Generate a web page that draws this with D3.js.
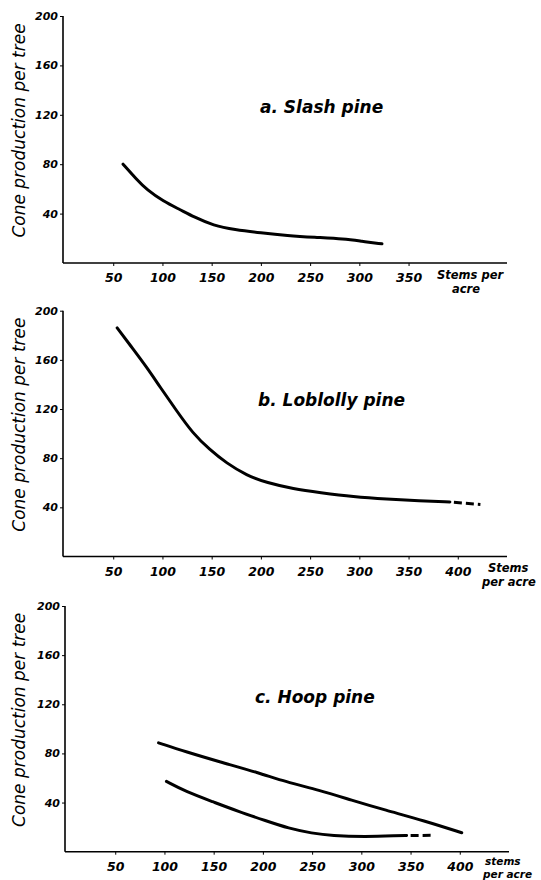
<!DOCTYPE html>
<html>
<head>
<meta charset="utf-8">
<script src="https://cdn.jsdelivr.net/npm/d3@7"></script>
<style>
  body { margin: 0; background: #fff; }
  svg { display: block; }
  .tick text { font-family: "DejaVu Sans", sans-serif; font-weight: bold; font-style: italic; }
</style>
</head>
<body>
<svg width="541" height="880"></svg>
<script>
const svg = d3.select('svg');

// values
const stemTicks = [50, 100, 150, 200, 250, 300, 350, 400];
const coneTicks = [40, 80, 120, 160, 200];

const slashStems = [60, 74, 84, 101, 118, 132, 152, 173, 200, 227, 254, 285, 302, 323];
const slashCones = [80, 67.5, 59.4, 49.9, 43.2, 37.3, 30.3, 27, 24.4, 22.2, 20.8, 19.5, 17.6, 15.5];

const loblollyStems = [54, 70, 84, 97.5, 114, 131, 148, 165, 185.5, 206, 233, 260, 294, 328, 361, 392];
const loblollyCones = [186, 169, 154, 138, 119, 100, 87, 76, 66, 60, 55, 52, 48.6, 46.7, 45.4, 44.3];
const loblollyDashStems = [392, 423];
const loblollyDashCones = [44.3, 42.4];

const hoopUpperStems = [94, 122, 156, 196, 223, 257, 290, 324, 364, 402];
const hoopUpperCones = [88.6, 81.3, 73.2, 64.2, 56.9, 50.2, 42, 33.9, 25.2, 15.4];
const hoopLowerStems = [102, 122, 149, 176, 203, 226, 250, 270, 304, 337, 346];
const hoopLowerCones = [57.2, 48.8, 40.7, 32.5, 25.2, 19, 15, 13, 12.2, 13, 13.2];
const hoopLowerDashStems = [346, 372];
const hoopLowerDashCones = [13.2, 13.3];

const zip = (xs, ys) => xs.map((x, i) => [x, ys[i]]);

// one entry per panel; top = pixel of 200, base = pixel of 0
const panels = [
  { title: 'a. Slash pine', top: 16, base: 263, x0: 64, tx: 260, ty: 113,
    ticks: stemTicks.slice(0, 7), unit: ['Stems per', 'acre'], ux: [437, 452], uy: [279, 293], us: 11.5,
    solid: [zip(slashStems, slashCones)], dashed: [] },
  { title: 'b. Loblolly pine', top: 310.7, base: 556.5, x0: 64, tx: 258, ty: 406,
    ticks: stemTicks, unit: ['Stems', 'per acre'], ux: [488, 482], uy: [572, 586], us: 11.5,
    solid: [zip(loblollyStems, loblollyCones)], dashed: [zip(loblollyDashStems, loblollyDashCones)] },
  { title: 'c. Hoop pine', top: 606, base: 851.7, x0: 66, tx: 255, ty: 703,
    ticks: stemTicks, unit: ['stems', 'per acre'], ux: [485, 483], uy: [865, 877.5], us: 10.5,
    solid: [zip(hoopUpperStems, hoopUpperCones), zip(hoopLowerStems, hoopLowerCones)],
    dashed: [zip(hoopLowerDashStems, hoopLowerDashCones)] }
];

panels.forEach(p => {
  const x = d3.scaleLinear().domain([0, 450]).range([p.x0, p.x0 + 443]);
  const y = d3.scaleLinear().domain([0, 200]).range([p.base, p.top]);
  const g = svg.append('g');

  const xAxis = g.append('g')
    .attr('transform', `translate(0,${p.base})`)
    .call(d3.axisBottom(x).tickValues(p.ticks).tickSize(3).tickSizeOuter(0).tickPadding(5));
  xAxis.select('.domain').attr('d', `M${p.x0 - 1},0H${p.x0 + 443}`).attr('stroke-width', 1.6);
  xAxis.selectAll('.tick text').attr('font-size', 12.5).attr('dy', '0.9em');

  const yAxis = g.append('g')
    .attr('transform', `translate(${p.x0 - 1},0)`)
    .call(d3.axisLeft(y).tickValues(coneTicks).tickSize(3).tickSizeOuter(0).tickPadding(2));
  yAxis.select('.domain').attr('d', `M0,${y(200)}V${p.base}`).attr('stroke-width', 1.6);
  yAxis.selectAll('.tick text').attr('font-size', 11);

  const line = d3.line().x(d => x(d[0])).y(d => y(d[1])).curve(d3.curveBasis);
  g.selectAll('path.solid').data(p.solid).join('path')
    .attr('class', 'solid')
    .attr('d', line)
    .attr('fill', 'none').attr('stroke', '#000').attr('stroke-width', 3)
    .attr('stroke-linecap', 'round');
  g.selectAll('path.dashed').data(p.dashed).join('path')
    .attr('class', 'dashed')
    .attr('d', line)
    .attr('fill', 'none').attr('stroke', '#000').attr('stroke-width', 3)
    .attr('stroke-dasharray', '8,4').attr('stroke-dashoffset', -4);

  g.append('text')
    .attr('x', p.tx).attr('y', p.ty)
    .attr('font-family', 'DejaVu Sans').attr('font-style', 'italic').attr('font-weight', 'bold')
    .attr('font-size', 17)
    .text(p.title);

  g.append('text')
    .attr('transform', `translate(25,${(p.top + p.base - 18) / 2}) rotate(-90)`)
    .attr('text-anchor', 'middle')
    .attr('font-family', 'DejaVu Sans').attr('font-style', 'italic')
    .attr('font-size', 17)
    .text('Cone production  per tree');

  p.unit.forEach((u, i) => {
    g.append('text')
      .attr('x', p.ux[i]).attr('y', p.uy[i])
      .attr('font-family', 'DejaVu Sans').attr('font-style', 'italic').attr('font-weight', 'bold')
      .attr('font-size', p.us)
      .text(u);
  });
});
</script>
</body>
</html>
